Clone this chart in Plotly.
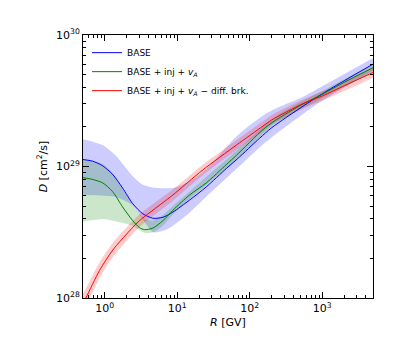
import math
import plotly.graph_objects as go

# ---------------- data ----------------
# BASE (blue)
R_base = [0.5, 0.676, 0.93, 1.277, 1.756, 2.41, 3.32, 4.6, 6.33, 8.69, 14.8, 25.1,
          47.5, 68, 137, 200, 543, 1000, 2045, 5000]
D_base = [1.130e29, 1.099e29, 1.014e29, 8.73e28, 6.87e28, 5.24e28, 4.38e28, 4.04e28,
          4.11e28, 4.50e28, 5.56e28, 7.00e28, 9.66e28, 1.148e29, 1.644e29, 1.972e29,
          2.88e29, 3.57e29, 4.52e29, 6.0e29]
R_base_hi = [0.5, 0.93, 1.4, 2.41, 3.32, 4.6, 8.69, 14.8, 25.1, 65.3, 180, 543, 1000, 5000]
D_base_hi = [1.614e29, 1.455e29, 1.216e29, 8.47e28, 7.29e28, 6.92e28, 6.87e28, 7.74e28,
             9.55e28, 1.694e29, 2.582e29, 3.388e29, 4.074e29, 6.68e29]
R_base_lo = [0.5, 1.4, 2.41, 3.32, 4.6, 6.33, 8.69, 14.8, 25.1, 68, 170, 543, 1000, 5000]
D_base_lo = [6.08e28, 5.87e28, 5.08e28, 3.98e28, 3.16e28, 3.24e28, 3.55e28, 4.47e28,
             5.89e28, 9.77e28, 1.55e29, 2.51e29, 3.16e29, 5.37e29]

# BASE + inj + vA (green)
R_inj = [0.5, 0.676, 0.93, 1.277, 1.756, 2.41, 3.0, 3.53, 4.6, 6.33, 8.69, 14.8, 25.1,
         47.5, 65.3, 152, 221, 543, 1000, 2045, 5000]
D_inj = [8.22e28, 7.98e28, 7.52e28, 6.46e28, 4.93e28, 3.89e28, 3.43e28, 3.31e28, 3.40e28,
         3.87e28, 4.65e28, 6.08e28, 7.50e28, 1.035e29, 1.216e29, 1.91e29, 2.23e29, 2.99e29,
         3.54e29, 4.40e29, 5.64e29]
R_inj_hi = [0.5, 0.93, 1.277, 1.756, 2.41, 3.53, 4.6, 6.33, 8.69, 14.8, 65.3, 221, 1000, 5000]
D_inj_hi = [1.135e29, 1.047e29, 8.91e28, 6.84e28, 5.13e28, 3.98e28, 3.89e28, 4.27e28,
            5.01e28, 6.46e28, 1.318e29, 2.37e29, 3.76e29, 6.03e29]
R_inj_lo = [0.5, 0.93, 1.756, 2.41, 3.53, 4.6, 6.33, 8.69, 14.8, 65.3, 221, 1000, 5000]
D_inj_lo = [3.80e28, 3.98e28, 3.72e28, 3.55e28, 3.13e28, 3.16e28, 3.55e28, 4.32e28,
            5.69e28, 1.122e29, 2.11e29, 3.31e29, 5.25e29]

# BASE + inj + vA - diff. brk. (red)
R_brk = [0.5, 0.553, 0.845, 1.29, 2.19, 3.0, 6.32, 8.69, 22.6, 65.3, 152, 200, 543,
         1000, 2045, 5000]
D_brk = [9.06e27, 1.01e28, 1.62e28, 2.32e28, 3.24e28, 3.87e28, 5.31e28, 6.08e28, 9.44e28,
         1.455e29, 2.03e29, 2.26e29, 3.01e29, 3.44e29, 4.13e29, 5.19e29]
D_brk_hi = [1.072e28, 1.189e28, 1.862e28, 2.63e28, 3.63e28, 4.32e28, 5.89e28, 6.68e28,
            1.035e29, 1.585e29, 2.21e29, 2.455e29, 3.24e29, 3.72e29, 4.47e29, 5.62e29]
D_brk_lo = [7.59e27, 8.61e27, 1.413e28, 2.04e28, 2.88e28, 3.47e28, 4.79e28, 5.50e28,
            8.61e28, 1.334e29, 1.862e29, 2.09e29, 2.75e29, 3.16e29, 3.76e29, 4.73e29]

names = ["BASE",
         "BASE + inj + <i>v<sub>A</sub></i>",
         "BASE + inj + <i>v<sub>A</sub></i> \u2212 diff. brk."]
line_colors = ["#0000ff", "#008000", "#ff0000"]
band_colors = ["rgba(0,0,255,0.2)", "rgba(0,128,0,0.2)", "rgba(255,0,0,0.2)"]

x_tickvals = [1, 10, 100, 1000]
x_ticktext = ["10<sup>0</sup>", "10<sup>1</sup>", "10<sup>2</sup>", "10<sup>3</sup>"]
y_tickvals = [1e28, 1e29, 1e30]
y_ticktext = ["10<sup>28</sup>", "10<sup>29</sup>", "10<sup>30</sup>"]
x_minor = [m * 10.0 ** e for e in range(-1, 4) for m in range(2, 10)
           if 0.5 <= m * 10.0 ** e <= 5000]
y_minor = [m * 10.0 ** e for e in (28, 29) for m in range(2, 10)]

SMOOTH = 0.7

# ---------------- figure ----------------
fig = go.Figure()

bands = [(R_base_lo, D_base_lo, R_base_hi, D_base_hi),
         (R_inj_lo, D_inj_lo, R_inj_hi, D_inj_hi),
         (R_brk, D_brk_lo, R_brk, D_brk_hi)]
for (rl, dl, rh, dh), bc in zip(bands, band_colors):
    fig.add_trace(go.Scatter(x=rl, y=dl, mode="lines",
                             line=dict(width=0, shape="spline", smoothing=SMOOTH),
                             showlegend=False, hoverinfo="skip"))
    fig.add_trace(go.Scatter(x=rh, y=dh, mode="lines",
                             line=dict(width=0, shape="spline", smoothing=SMOOTH),
                             fill="tonexty", fillcolor=bc, showlegend=False, hoverinfo="skip"))

for r, d, nm, lc in zip([R_base, R_inj, R_brk], [D_base, D_inj, D_brk], names, line_colors):
    fig.add_trace(go.Scatter(x=r, y=d, mode="lines", name=nm,
                             line=dict(color=lc, width=1, shape="spline", smoothing=SMOOTH)))

axis_common = dict(
    type="log", showgrid=False, zeroline=False, showline=True, linecolor="black",
    linewidth=1, mirror="allticks", ticks="inside", ticklen=6, tickwidth=1,
    tickcolor="black", automargin=False,
    tickfont=dict(family="DejaVu Sans", size=11, color="black"),
)

fig.update_xaxes(
    **axis_common,
    range=[math.log10(0.5), math.log10(5000)],
    tickmode="array", tickvals=x_tickvals, ticktext=x_ticktext,
    minor=dict(tickmode="array", tickvals=x_minor, ticks="inside", ticklen=3,
               tickwidth=1, tickcolor="black", showgrid=False),
    title=dict(text="<i>R</i> [GV]", standoff=4,
               font=dict(family="DejaVu Sans", size=11, color="black")),
)
fig.update_yaxes(
    **axis_common,
    range=[28, 30],
    tickmode="array", tickvals=y_tickvals, ticktext=y_ticktext,
    minor=dict(tickmode="array", tickvals=y_minor, ticks="inside", ticklen=3,
               tickwidth=1, tickcolor="black", showgrid=False),
    title=dict(text="<i>D</i> [cm<sup>2</sup>/s]", standoff=6,
               font=dict(family="DejaVu Sans", size=11, color="black")),
)

# page has an 8px body margin, so the figure is shrunk and shifted accordingly
fig.update_layout(
    width=407, height=355,
    margin=dict(l=75, r=42, t=27, b=65),
    paper_bgcolor="white", plot_bgcolor="white",
    font=dict(family="DejaVu Sans", size=10, color="black"),
    showlegend=True,
    legend=dict(x=0.014, y=0.988, xanchor="left", yanchor="top",
                traceorder="normal",
                bgcolor="rgba(0,0,0,0)", borderwidth=0,
                font=dict(family="DejaVu Sans", size=9, color="black"),
                tracegroupgap=0),
)

fig.write_html("out.html")
